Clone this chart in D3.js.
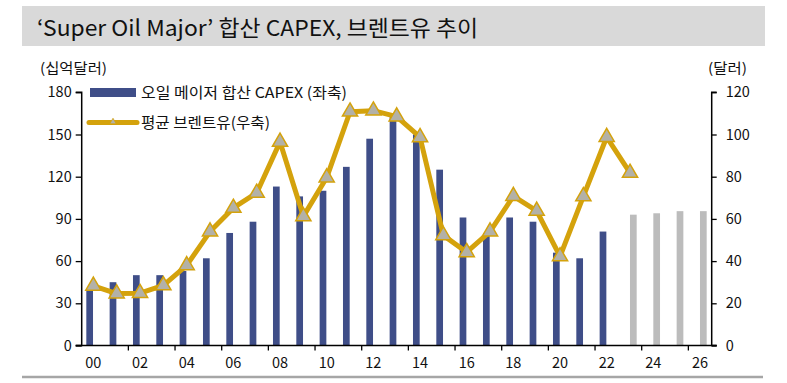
<!DOCTYPE html>
<html><head><meta charset="utf-8">
<script src="https://cdn.jsdelivr.net/npm/d3@7"></script>
<style>body{margin:0;background:#fff;} text{font-family:"Noto Sans CJK KR","Noto Sans",sans-serif;}</style>
</head><body>
<svg id="c" width="787" height="383"></svg>
<script>
const years = ["00","01","02","03","04","05","06","07","08","09","10","11","12","13","14","15","16","17","18","19","20","21","22","23","24","25","26"];
const capexYears = years.slice(0,23);
const capex = [40,45,50,50,53,62,80,88,113,106,110,127,147,163,150,125,91,80,91,88,66,62,81];
const forecastYears = ["23","24","25","26"];
const forecast = [93,94,95.5,95.5];
const brentYears = years.slice(0,24);
const brent = [28.3,24.6,24.8,28.5,38,54,65.2,72.3,96.5,61.2,79.6,110.8,111.3,108.5,98.7,52.2,44.2,54,70.8,63.8,42.2,70.7,98.8,81.8];
const leftTicks = [0,30,60,90,120,150,180];
const rightTicks = [0,20,40,60,80,100,120];
const xTickLabels = ["00","02","04","06","08","10","12","14","16","18","20","22","24","26"];

const svg = d3.select("#c");
const L = 81.7, R = 711.7, T = 92.3, B = 345.5;
const x = d3.scaleBand().domain(years).range([L, R]).padding(0);
const yL = d3.scaleLinear().domain([0,180]).range([B, T]);
const yR = d3.scaleLinear().domain([0,120]).range([B, T]);
const navy = "#3F4E88", gold = "#D4A20C", grayBar = "#BCBCBC";

// title
svg.append("rect").attr("x",22).attr("y",6).attr("width",743).attr("height",40).attr("fill","#D9D9D9");
svg.append("text").attr("x",37).attr("y",35.5).attr("font-size",22).attr("fill","#111")
  .attr("textLength",441).attr("lengthAdjust","spacingAndGlyphs")
  .text("‘Super Oil Major’ 합산 CAPEX, 브렌트유 추이");
// bottom rule
svg.append("line").attr("x1",22).attr("x2",763).attr("y1",377).attr("y2",377).attr("stroke","#A6A6A6").attr("stroke-width",2.5);

// axis titles
svg.append("text").attr("x",40).attr("y",73).attr("font-size",14).attr("fill","#111")
  .attr("textLength",67).attr("lengthAdjust","spacingAndGlyphs").text("(십억달러)");
svg.append("text").attr("x",708).attr("y",73).attr("font-size",14).attr("fill","#111")
  .attr("textLength",39).attr("lengthAdjust","spacingAndGlyphs").text("(달러)");

const bw = 6.7;
svg.append("g").selectAll("rect").data(capexYears).join("rect")
  .attr("x", (d)=> x(d)+x.bandwidth()/2 - 3.7 - bw/2)
  .attr("y", (d,i)=> yL(capex[i]))
  .attr("width", bw)
  .attr("height", (d,i)=> B - yL(capex[i]))
  .attr("fill", navy);
svg.append("g").selectAll("rect").data(forecastYears).join("rect")
  .attr("x", (d)=> x(d)+x.bandwidth()/2 + 3.3 - bw/2)
  .attr("y", (d,i)=> yL(forecast[i]))
  .attr("width", bw)
  .attr("height", (d,i)=> B - yL(forecast[i]))
  .attr("fill", grayBar);

// line
const line = d3.line().x((d)=> x(d[0])+x.bandwidth()/2).y((d)=> yR(d[1]));
const pts = brentYears.map((y,i)=>[y,brent[i]]);
svg.append("path").datum(pts).attr("d",line).attr("fill","none").attr("stroke",gold).attr("stroke-width",5).attr("stroke-linejoin","round");
const tri = d3.symbol().type(d3.symbolTriangle).size(100);
svg.append("g").selectAll("path").data(pts).join("path")
  .attr("transform", (d)=> `translate(${x(d[0])+x.bandwidth()/2},${yR(d[1])})`)
  .attr("d", tri).attr("fill","#B3B1A7").attr("stroke",gold).attr("stroke-width",1.5);

// axes
const axL = svg.append("g").attr("transform",`translate(${L},0)`)
  .call(d3.axisLeft(yL).tickValues(leftTicks).tickSize(6).tickPadding(4));
const axR = svg.append("g").attr("transform",`translate(${R},0)`)
  .call(d3.axisRight(yR).tickValues(rightTicks).tickSize(5).tickPadding(9));
const axX = svg.append("g").attr("transform",`translate(0,${B})`)
  .call(d3.axisBottom(x).tickValues(xTickLabels).tickSize(0).tickPadding(12));
// x ticks at band boundaries every 2 categories
svg.append("g").selectAll("line").data(xTickLabels.slice(1)).join("line")
  .attr("x1", d=> x(d)).attr("x2", d=> x(d)).attr("y1", B).attr("y2", B+5)
  .attr("stroke","#000").attr("stroke-width",1.3);
[axL,axR,axX].forEach(a=>{
  a.select(".domain").attr("stroke","#000").attr("stroke-width",1.5);
  a.selectAll(".tick line").attr("stroke","#000").attr("stroke-width",1.3);
  a.selectAll("text").attr("font-size",14.5).attr("fill","#111").style("font-family","'Noto Sans CJK KR',sans-serif");
});
axL.select(".domain").attr("d",`M-6,${T}H0V${B}H-6`);
axR.select(".domain").attr("d",`M5,${T}H0V${B}H5`);
axX.select(".domain").attr("d",`M${L-6},0H${R+5}`);

// legend
svg.append("rect").attr("x",90).attr("y",88).attr("width",46).attr("height",9).attr("fill",navy);
svg.append("text").attr("x",141).attr("y",98).attr("font-size",15).attr("fill","#111")
  .attr("textLength",206).attr("lengthAdjust","spacingAndGlyphs").text("오일 메이저 합산 CAPEX (좌축)");
svg.append("line").attr("x1",89).attr("x2",137).attr("y1",122.5).attr("y2",122.5).attr("stroke",gold).attr("stroke-width",5).attr("stroke-linecap","round");
svg.append("path").attr("transform","translate(113,122)").attr("d",d3.symbol().type(d3.symbolTriangle).size(18)).attr("fill","#B3B1A7").attr("stroke",gold).attr("stroke-width",0.8);
svg.append("text").attr("x",141).attr("y",128).attr("font-size",15).attr("fill","#111")
  .attr("textLength",129).attr("lengthAdjust","spacingAndGlyphs").text("평균 브렌트유(우축)");
</script>
</body></html>
